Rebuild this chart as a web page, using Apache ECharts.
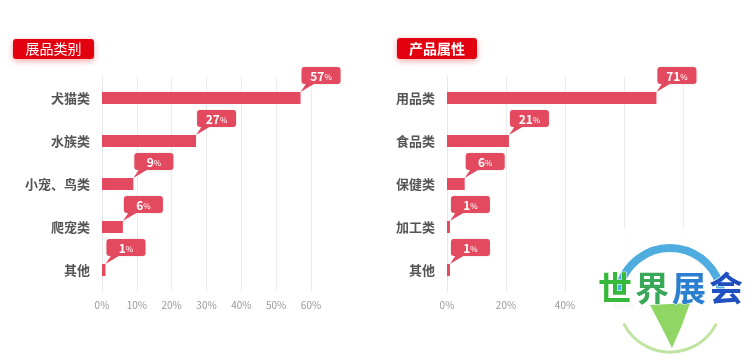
<!DOCTYPE html>
<html><head><meta charset="utf-8">
<script src="https://cdn.jsdelivr.net/npm/echarts@6/dist/echarts.min.js"></script>
<style>html,body{margin:0;padding:0;background:#fff}#c{width:750px;height:360px}</style>
</head><body><div id="c"></div>
<script>
const leftTitle = '展品类别';
const leftCategories = ['犬猫类','水族类','小宠、鸟类','爬宠类','其他'];
const leftValues = [57, 27, 9, 6, 1];
const leftTicks = [0, 10, 20, 30, 40, 50, 60];

const rightTitle = '产品属性';
const rightCategories = ['用品类','食品类','保健类','加工类','其他'];
const rightValues = [71, 21, 6, 1, 1];
const rightTicks = [0, 20, 40, 60, 80];

const watermarkChars = ['世', '界', '展', '会'];

const RED = '#e44a5f';
const FONT = '"Noto Sans CJK SC", sans-serif';

function renderCallout(params, api) {
  const v = api.value(0), idx = api.value(1);
  const p = api.coord([v, idx]);
  const x = p[0], y = p[1];
  const bw = 39, bh = 17, bx = x + 1, by = y - 31;
  return {
    type: 'group',
    children: [
      { type: 'polygon', shape: { points: [[x, y - 6], [bx + 5, by + bh - 1], [bx + 14, by + bh - 1]] }, style: { fill: RED } },
      { type: 'rect', shape: { x: bx, y: by, width: bw, height: bh, r: 3 }, style: { fill: RED, shadowBlur: 2, shadowColor: 'rgba(0,0,0,0.15)' } },
      { type: 'text', x: bx + bw / 2, y: by + bh / 2 + 1, style: {
          text: '{a|' + v + '}{b|%}', align: 'center', verticalAlign: 'middle',
          rich: { a: { fontSize: 12, fontWeight: 'bold', fill: '#fff', color: '#fff', fontFamily: FONT },
                  b: { fontSize: 8, fill: '#fff', color: '#fff', fontFamily: FONT } } } }
    ]
  };
}

function xAxisCfg(gi, ticks) {
  return {
    type: 'value', gridIndex: gi, min: ticks[0], max: ticks[ticks.length - 1], interval: ticks[1] - ticks[0],
    axisLine: { show: false }, axisTick: { show: false },
    splitLine: { lineStyle: { color: '#ebebeb', width: 1 } },
    axisLabel: { color: '#999', fontSize: 10, margin: 9, fontFamily: FONT, formatter: '{value}%' }
  };
}
function yAxisCfg(gi, cats) {
  return {
    type: 'category', gridIndex: gi, data: cats, inverse: true,
    axisLine: { lineStyle: { color: '#e6e6e6' } },
    axisTick: { lineStyle: { color: '#e6e6e6' }, length: 3 },
    axisLabel: { color: '#555', fontSize: 13, fontWeight: 'bold', margin: 12, fontFamily: FONT }
  };
}
function badge(x, y, w, h, text, bold) {
  return {
    type: 'group', children: [
      { type: 'rect', shape: { x: x, y: y, width: w, height: h, r: 3 },
        style: { fill: '#e3000f', shadowBlur: 6, shadowColor: 'rgba(227,0,15,0.35)', shadowOffsetY: 2 } },
      { type: 'text', x: x + w / 2, y: y + h / 2, style: { text: text, fill: '#fff', fontSize: 14,
          fontWeight: bold ? 'bold' : 'normal', fontFamily: FONT, align: 'center', verticalAlign: 'middle' } }
    ]
  };
}

const wmColors = ['#36b83a', '#3aa858', '#2a7fd0', '#1f4fc0'];
const wmTexts = watermarkChars.map((ch, i) => ({
  type: 'text', x: 598 + i * 37, y: 288, z: 52,
  style: { text: ch, fontSize: 34, fontWeight: 'bold', fontFamily: FONT, fill: wmColors[i],
    stroke: '#ffffff', lineWidth: 1, align: 'left', verticalAlign: 'middle' }
}));

const chart = echarts.init(document.getElementById('c'));
chart.setOption({
  animation: false,
  grid: [
    { left: 102, top: 76.5, width: 209, height: 215 },
    { left: 447, top: 76.5, width: 236, height: 215 }
  ],
  xAxis: [xAxisCfg(0, leftTicks), xAxisCfg(1, rightTicks)],
  yAxis: [yAxisCfg(0, leftCategories), yAxisCfg(1, rightCategories)],
  series: [
    { type: 'bar', xAxisIndex: 0, yAxisIndex: 0, data: leftValues, barWidth: 12, itemStyle: { color: RED } },
    { type: 'bar', xAxisIndex: 1, yAxisIndex: 1, data: rightValues, barWidth: 12, itemStyle: { color: RED } },
    { type: 'custom', xAxisIndex: 0, yAxisIndex: 0, renderItem: renderCallout, encode: { x: 0, y: 1 },
      data: leftValues.map((v, i) => [v, i]), z: 5 },
    { type: 'custom', xAxisIndex: 1, yAxisIndex: 1, renderItem: renderCallout, encode: { x: 0, y: 1 },
      data: rightValues.map((v, i) => [v, i]), z: 5 }
  ],
  graphic: [
    badge(13, 39, 81, 20, leftTitle, false),
    badge(397, 38, 80, 21, rightTitle, true),
    { type: 'rect', shape: { x: 596, y: 228, width: 154, height: 132 }, style: { fill: 'rgba(255,255,255,0.85)' }, z: 50 },
    { type: 'arc', shape: { cx: 670, cy: 300, r: 52, startAngle: Math.PI * 1.05, endAngle: Math.PI * 1.95 },
      style: { stroke: '#2f9fd8', lineWidth: 8, fill: null, opacity: 0.85 }, z: 51 },
    { type: 'arc', shape: { cx: 670, cy: 300, r: 52, startAngle: Math.PI * 0.15, endAngle: Math.PI * 0.85 },
      style: { stroke: '#bfe3a0', lineWidth: 3, fill: null }, z: 51 },
    { type: 'polygon', shape: { points: [[650, 305], [690, 303], [682, 325], [672, 348], [662, 328]] },
      style: { fill: '#7ccf4a', opacity: 0.85 }, z: 51 }
  ].concat(wmTexts)
});
</script></body></html>
